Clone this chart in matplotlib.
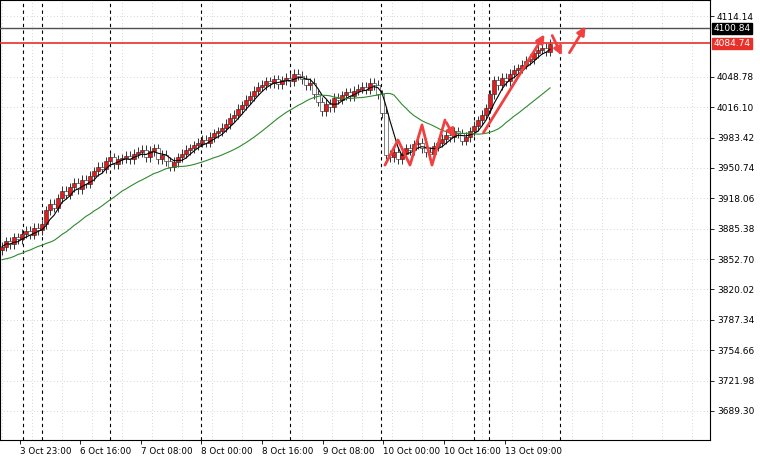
import matplotlib
matplotlib.use("Agg")
import matplotlib.pyplot as plt
import numpy as np
import pandas as pd
from matplotlib.patches import Rectangle

closes = [3866,3872,3869,3876,3874,3880,
          3883,3879,3886,3884,3890,
          3905,3912,3908,3918,3926,
          3922,3930,3935,3928,3938,
          3934,3942,3947,3952,3950,3958,
          3962,3955,3960,3961,
          3964,3960,3966,3968,3970,
          3962,3969,3972,3960,3965,
          3958,3952,3957,
          3962,3966,3970,3972,3975,3978,3981,
          3978,3984,3988,3990,3994,
          3998,4005,4008,4014,4018,
          4024,4028,4034,4038,4040,
          4044,4042,4046,4041,4045,
          4048,4044,4052,4050,
          4046,4040,4042,4030,4022,
          4012,4020,4016,4026,4024,
          4029,4032,4028,4034,4036,
          4038,4035,4042,4040,4030,
          4010,3965,3962,3968,3960,
          3966,3972,3970,3976,3978,
          3972,3968,3966,3974,3978,
          3982,3986,3984,3990,3988,
          3980,3984,3990,3996,4002,
          4008,4015,4030,4045,4040,
          4048,4044,4052,4056,4058,
          4062,4066,4068,4074,4078,
          4080,4076,4084]
first_open = 3862
prior_closes = [3846, 3848, 3850, 3852, 3851, 3854, 3856, 3855, 3858, 3860]
level_black = 4100.84
level_red = 4084.74
y_ticks = [3689.30, 3721.98, 3754.66, 3787.34, 3820.02, 3852.70, 3885.38,
           3918.06, 3950.74, 3983.42, 4016.10, 4048.78, 4114.14]
x_tick_idx = [4.4, 19.5, 34.7, 49.7, 65, 80.2, 95.2, 110.5, 125.7]
x_tick_labels = ["3 Oct 23:00", "6 Oct 16:00", "7 Oct 08:00", "8 Oct 00:00", "8 Oct 16:00",
                 "9 Oct 08:00", "10 Oct 00:00", "10 Oct 16:00", "13 Oct 09:00"]
sep_idx = [5.2, 10, 27, 49.7, 72, 94.7, 118, 121.7, 139.5]

closes = np.array(closes, float)
opens = np.concatenate([[first_open], closes[:-1]])
n = len(closes)
idx = np.arange(n)
k = len(prior_closes)
s = pd.Series(np.concatenate([prior_closes, closes]))
ma_fast = pd.Series(closes).rolling(5, min_periods=1).mean()
ma_slow = s.ewm(span=24).mean().shift(3).iloc[k:].values

fig = plt.figure(figsize=(7.6, 4.58), dpi=100)
ax = fig.add_axes([0, 18/458, 710/760, 440/458])
ymin, ymax = 3658.1, 4131.4
xmin, xmax = -0.5, 177
ax.set_xlim(xmin, xmax); ax.set_ylim(ymin, ymax)

def px(x, y):
    return ((x - 2) / 4.0, 4114.14 - (y - 16) * 1.0756)

for y in y_ticks:
    ax.axhline(y, color="#c8c8c8", lw=0.6, ls=(0, (1, 3)), zorder=0)
for x in np.arange(0, xmax, 7.5):
    ax.axvline(x, color="#c8c8c8", lw=0.6, ls=(0, (1, 3)), zorder=0)
for x in sep_idx:
    ax.axvline(x, color="black", lw=0.8, ls=(0, (3, 3)), zorder=1)

for i in range(n):
    o, c = opens[i], closes[i]
    lo, hi = min(o, c), max(o, c)
    ax.vlines(i, lo - 5, hi + 5, color="#333333", lw=0.7, zorder=2)
    col = "#e41a1c" if c >= o else "white"
    ax.add_patch(Rectangle((i - 0.4, lo), 0.8, max(hi - lo, 1.0), facecolor=col,
                           edgecolor="#222222", lw=0.4, zorder=3))

ax.plot(idx, ma_fast, color="black", lw=0.8, zorder=4)
ax.plot(idx, ma_slow, color="#2e8b2e", lw=0.8, zorder=4)

ax.axhline(level_black, color="#505050", lw=1.0, zorder=5)
ax.axhline(level_red, color="#e8302a", lw=1.2, zorder=5)

arrow_paths = [
    [(385, 165), (398, 140), (410, 165), (422, 125), (432, 165), (445, 120), (456, 140)],
    [(482, 135), (546, 32)],
    [(551, 33), (563, 58)],
    [(568, 55), (587, 24)],
]
for path in arrow_paths:
    pts = [px(*p) for p in path]
    if len(pts) > 2:
        xs, ys = zip(*pts[:-1])
        ax.plot(xs, ys, color="#f04040", lw=2, zorder=6, solid_capstyle="round")
    ax.annotate("", xy=pts[-1], xytext=pts[-2],
                arrowprops=dict(arrowstyle="-|>", color="#f04040", lw=2, mutation_scale=12),
                zorder=6)

ax.yaxis.tick_right()
ax.set_yticks(y_ticks)
ax.set_yticklabels([f"{v:.2f}" for v in y_ticks], fontsize=6.5)
ax.set_xticks(x_tick_idx)
ax.set_xticklabels(x_tick_labels, fontsize=6.3, ha="left")
ax.tick_params(length=3, width=0.6, pad=2)
for sp in ax.spines.values():
    sp.set_linewidth(0.8)

for lvl, fc in [(level_black, "black"), (level_red, "#e8302a")]:
    ax.text(1.005, (lvl - ymin) / (ymax - ymin), f"{lvl:.2f}", transform=ax.transAxes,
            fontsize=6.5, color="white", va="center", ha="left",
            bbox=dict(boxstyle="square,pad=0.15", fc=fc, ec=fc))

fig.savefig("out.png", dpi=100)
